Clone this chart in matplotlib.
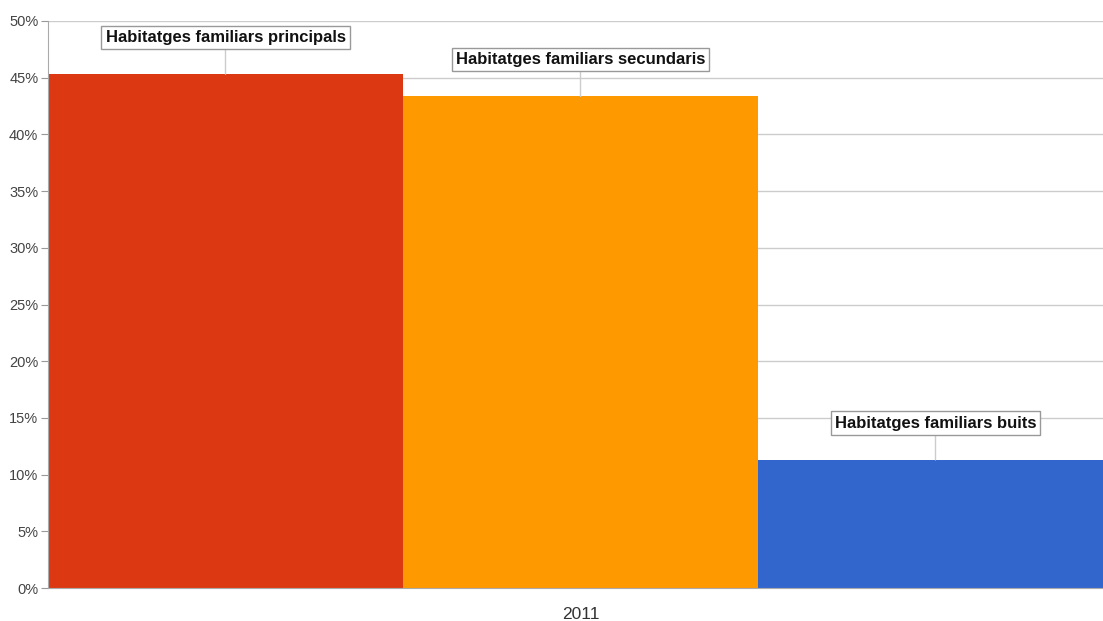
#!/usr/bin/env python3
"""Bar chart of family dwelling types (2011), share of total."""

import matplotlib
matplotlib.use("Agg")
import matplotlib.pyplot as plt
from matplotlib.ticker import FuncFormatter, MultipleLocator

plt.rcParams["font.family"] = ["Liberation Sans", "DejaVu Sans"]

year = "2011"
series = ["Habitatges familiars principals",
          "Habitatges familiars secundaris",
          "Habitatges familiars buits"]
shares = [45.3, 43.35, 11.3]
colors = ["#DC3912", "#FF9900", "#3366CC"]

W, H = 1103, 621
fig = plt.figure(figsize=(W / 100, H / 100), dpi=100)
# axes runs a little past the right edge of the canvas
left, right, top, bottom = 48, 1113, 21, 588
ax = fig.add_axes([left / W, 1 - bottom / H, (right - left) / W, (bottom - top) / H])

xs = list(range(len(series)))
ax.bar(xs, shares, width=1.0, color=colors, zorder=2)

ax.set_xlim(-0.5, len(series) - 0.5)
ax.set_ylim(0, 50)
ax.yaxis.set_major_locator(MultipleLocator(5))
ax.yaxis.set_major_formatter(FuncFormatter(lambda v, _: f"{v:.0f}%"))
ax.grid(axis="y", color="#cccccc", lw=1, zorder=0)
ax.tick_params(axis="y", colors="#999999", labelcolor="#444444", labelsize=10.5, length=5, pad=2)
ax.set_xticks([1])
ax.set_xticklabels([year])
ax.tick_params(axis="x", length=0, labelsize=12.5, labelcolor="#333333", pad=14)

for side in ("top", "right"):
    ax.spines[side].set_visible(False)
ax.spines["left"].set_color("#aaaaaa")
ax.spines["bottom"].set_color("#aaaaaa")

for x, v, name in zip(xs, shares, series):
    ax.annotate(name, (x, v), xytext=(0, 26.5), textcoords="offset points",
                ha="center", va="center", fontsize=12, fontweight="bold", color="#111111",
                bbox={"boxstyle": "square,pad=0.25", "facecolor": "white", "edgecolor": "#999999", "lw": 1},
                arrowprops={"arrowstyle": "-", "color": "#cccccc", "lw": 1, "shrinkA": 0, "shrinkB": 0},
                zorder=3)

fig.savefig("out.png", dpi=100)
